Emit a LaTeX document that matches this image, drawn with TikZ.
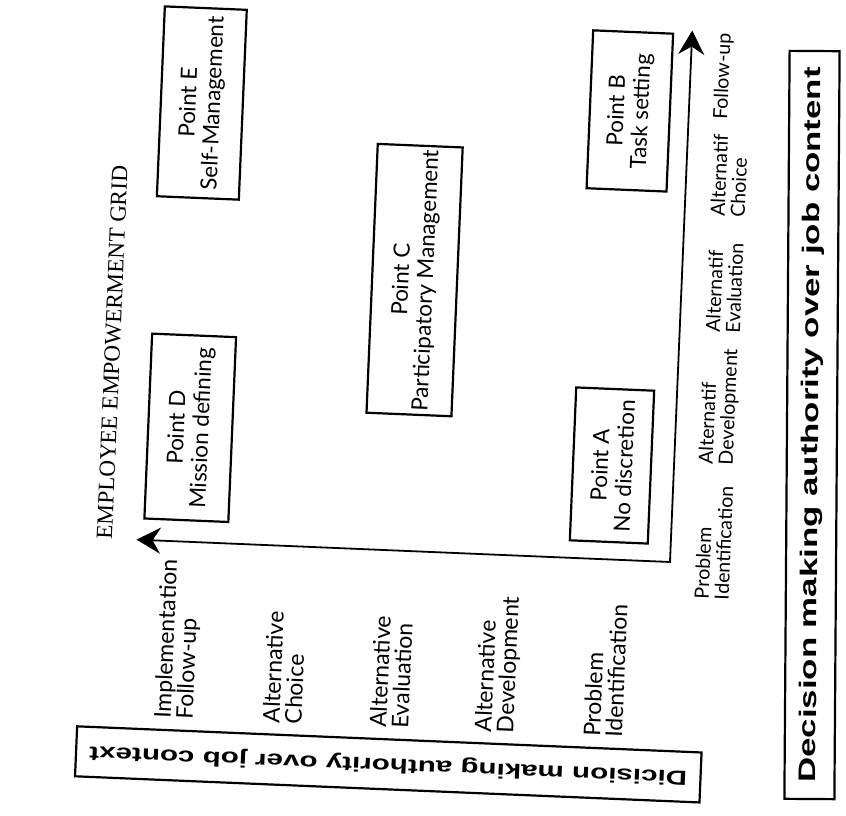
\documentclass[tikz,border=0pt]{standalone}
\usepackage{fontspec}
\setmainfont{Liberation Serif}
\newfontfamily\gridfont{Lato}
\newfontfamily\heavyfont{Liberation Sans}
\usetikzlibrary{arrows.meta}

\begin{document}
\begin{tikzpicture}[x=0.5pt,y=-0.5pt,
    pointbox/.style={draw,line width=1.1pt,rotate=90,align=center,
      inner sep=2pt,font=\gridfont\fontsize{11.2}{12.2}\selectfont},
    steplabel/.style={rotate=90,anchor=west,align=left,inner sep=0pt,
      font=\gridfont\fontsize{11.5}{11}\selectfont},
    stagelabel/.style={rotate=90,anchor=west,align=left,inner sep=0pt,
      font=\gridfont\fontsize{9.8}{10}\selectfont},
    authbox/.style={draw,line width=1.1pt,inner sep=0pt},
    axisline/.style={line width=0.9pt,
      {Stealth[length=12pt,width=13pt,inset=4pt]}-{Stealth[length=12pt,width=13pt,inset=4pt]}}]

% Page frame of the scan
\useasboundingbox (0,0) rectangle (846,815);

% The scan is turned a little clockwise round the corner of the axes
\begin{scope}[rotate around={-2.4:(670,562)},transform shape]

% Corner and tips of the two axes
\coordinate (O) at (670,562);
\coordinate (Up) at (670,30);
\coordinate (Left) at (136,562);
\draw[axisline] (Left) -- (O) -- (Up);

% Title
\node[rotate=90,font=\fontsize{11.6}{13}\selectfont] (title) at (104,376)
  {EMPLOYEE EMPOWERMENT GRID};

% The five points of the grid
\node[pointbox,minimum width=95pt,minimum height=41pt] (E) at (183,123)
  {Point E\\Self-Management};
\node[pointbox,minimum width=92.5pt,minimum height=42pt] (D) at (185,448)
  {Point D\\Mission defining};
\node[pointbox,minimum width=132.5pt,minimum height=42.5pt] (C) at (403,291)
  {Point C\\Participatory Management};
\node[pointbox,minimum width=76.5pt,minimum height=39pt] (A) at (608,468)
  {Point A\\No discretion};
\node[pointbox,minimum width=79pt,minimum height=40pt] (B) at (611,113)
  {Point B\\Task setting};

% Steps over job context (left axis)
\node[steplabel] (ctx1) at (182,740) {Implementation\\Follow-up};
\node[steplabel] (ctx2) at (289,740) {Alternative\\Choice};
\node[steplabel] (ctx3) at (396,740) {Alternative\\Evaluation};
\node[steplabel] (ctx4) at (503,740) {Alternative\\Development};
\node[steplabel] (ctx5) at (610,740) {Problem\\Identification};

% Steps over job content (upward axis)
\node[stagelabel] (cnt1) at (713,598) {Problem\\Identification};
\node[stagelabel] (cnt2) at (713,463) {Alternatif\\Development};
\node[stagelabel] (cnt3) at (713,331) {Alternatif\\Evaluation};
\node[stagelabel] (cnt4) at (713,215) {Alternatif\\Choice};
\node[stagelabel] (cnt5) at (703,118) {Follow-up};

% Name of the job context axis
\node[authbox,rotate=180,minimum width=312.5pt,minimum height=25pt,
  font=\heavyfont\bfseries\fontsize{10.2}{12}\selectfont] (context) at (397,776)
  {\scalebox{1.45}[1]{Dicision making authority over job context}};

\end{scope}

% Name of the job content axis (this box stands nearly upright)
\node[authbox,rotate=89.6,minimum width=374pt,minimum height=25pt,
  font=\heavyfont\bfseries\fontsize{12}{14}\selectfont] (content) at (812,425)
  {\scalebox{1.45}[1]{Decision making authority over job content}};

\end{tikzpicture}
\end{document}
